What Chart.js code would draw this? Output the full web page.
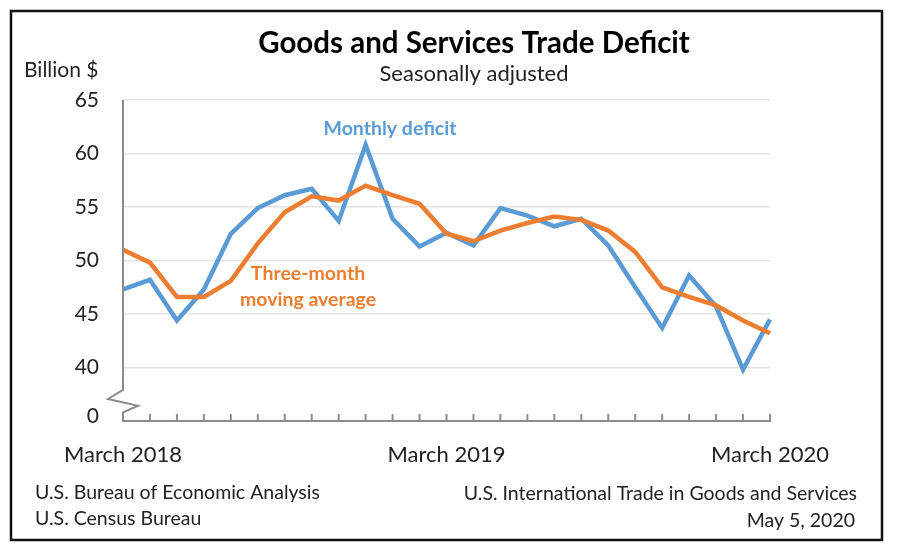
<!DOCTYPE html>
<html>
<head>
<meta charset="utf-8">
<script src="https://cdn.jsdelivr.net/npm/chart.js@4.4.1/dist/chart.umd.min.js"></script>
<style>
body{margin:0;background:#fff}
#wrap{width:900px;height:554px}
</style>
</head>
<body>
<div id="wrap"><canvas id="chart" width="900" height="554"></canvas></div>
<script>

const months=[
"March 2018","April 2018","May 2018","June 2018","July 2018","August 2018",
"September 2018","October 2018","November 2018","December 2018",
"January 2019","February 2019","March 2019","April 2019","May 2019","June 2019",
"July 2019","August 2019","September 2019","October 2019","November 2019","December 2019",
"January 2020","February 2020","March 2020"
]

const monthlyDeficit=[
47.3,48.2,44.4,47.3,52.5,54.9,56.1,56.7,53.7,60.8,
53.9,51.3,52.6,51.4,54.9,54.2,53.2,53.9,51.4,47.5,
43.7,48.6,45.7,39.8,44.5
]

const movingAverage=[
51.0,49.8,46.6,46.6,48.1,51.6,54.5,56.0,55.6,57.0,
56.1,55.3,52.5,51.8,52.8,53.5,54.1,53.8,52.8,50.8,
47.5,46.6,45.8,44.4,43.2
]

const yTickValues=[40,45,50,55,60,65]
const breakLabel="0"

const FONT="Lato, 'Open Sans', sans-serif"
const BLUE="#5B9BD5"
const ORANGE="#ED7D31"
const AXIS="#8c8c8c"

// bottom of the broken axis sits a bit under the first real tick
const AXIS_MIN=35
const ZERO_AT=35.4

const decor={
id:"decor",

afterDatasetsDraw(chart){

let ctx=chart.ctx
let x=chart.scales.x
let y=chart.scales.y
let a=chart.chartArea

ctx.save()
ctx.strokeStyle=AXIS
ctx.lineWidth=2

// y axis with break
let breakTop=y.getPixelForValue(37.9)
let breakBot=y.getPixelForValue(35.8)
ctx.beginPath()
ctx.moveTo(a.left,a.top)
ctx.lineTo(a.left,breakTop)
ctx.lineTo(a.left-15,breakTop+(breakBot-breakTop)*0.4)
ctx.lineTo(a.left+15,breakTop+(breakBot-breakTop)*0.7)
ctx.lineTo(a.left,breakBot)
ctx.lineTo(a.left,a.bottom)
ctx.stroke()

// x tick marks point up into the plot
ctx.beginPath()
months.forEach((m,i)=>{
let px=x.getPixelForValue(i)
ctx.moveTo(px,a.bottom)
ctx.lineTo(px,a.bottom-7)
})
ctx.stroke()

// series labels
ctx.font="bold 19.5px "+FONT
ctx.textAlign="center"
ctx.textBaseline="middle"
ctx.fillStyle=BLUE
ctx.fillText("Monthly deficit",390,129)
ctx.fillStyle=ORANGE
ctx.fillText("Three-month",308,274)
ctx.fillText("moving average",308,300)

ctx.restore()

},

afterDraw(chart){

let ctx=chart.ctx

ctx.save()

ctx.strokeStyle="#111"
ctx.lineWidth=2.5
ctx.strokeRect(11,11,871,529)

ctx.textBaseline="middle"
ctx.textAlign="center"
ctx.fillStyle="#000"
ctx.font="bold 29.5px "+FONT
ctx.fillText("Goods and Services Trade Deficit",474,43)

ctx.fillStyle="#222"
ctx.font="22px "+FONT
ctx.fillText("Seasonally adjusted",474,74)

ctx.textAlign="left"
ctx.font="21px "+FONT
ctx.fillText("Billion $",24,70)

ctx.font="19.5px "+FONT
ctx.fillText("U.S. Bureau of Economic Analysis",35,493)
ctx.fillText("U.S. Census Bureau",35,519)

ctx.textAlign="right"
ctx.fillText("U.S. International Trade in Goods and Services",857,494)
ctx.fillText("May 5, 2020",855,521)

ctx.restore()

}
}

new Chart(document.getElementById("chart"),{

type:"line",

data:{
labels:months,
datasets:[
{
label:"Monthly deficit",
data:monthlyDeficit,
borderColor:BLUE,
borderWidth:4.5,
pointRadius:0,
tension:0,
order:2
},
{
label:"Three-month moving average",
data:movingAverage,
borderColor:ORANGE,
borderWidth:4.5,
pointRadius:0,
tension:0,
order:1
}
]
},

options:{
responsive:false,
animation:false,
layout:{
padding:{left:0,right:130,top:100,bottom:80}
},
plugins:{
legend:{display:false},
tooltip:{enabled:false}
},
scales:{
x:{
offset:false,
grid:{display:false,drawTicks:false},
border:{display:true,color:AXIS,width:2},
ticks:{
autoSkip:false,
maxRotation:0,
padding:21,
color:"#222",
font:{family:FONT,size:22},
callback:function(v){
let l=this.getLabelForValue(v)
return l.startsWith("March")?l:""
}
},
afterFit(s){s.height=53}
},
y:{
min:AXIS_MIN,
max:65,
afterBuildTicks(s){
s.ticks=[ZERO_AT].concat(yTickValues).map(v=>({value:v}))
},
grid:{
drawTicks:false,
color:c=>c.tick&&c.tick.value<40?"rgba(0,0,0,0)":"#e3e3e3",
lineWidth:1.5
},
border:{display:false},
ticks:{
padding:24,
color:"#222",
font:{family:FONT,size:21},
callback:v=>v<40?breakLabel:v
},
afterFit(s){s.width=123}
}
}
},

plugins:[decor]

})

</script>
</body>
</html>
